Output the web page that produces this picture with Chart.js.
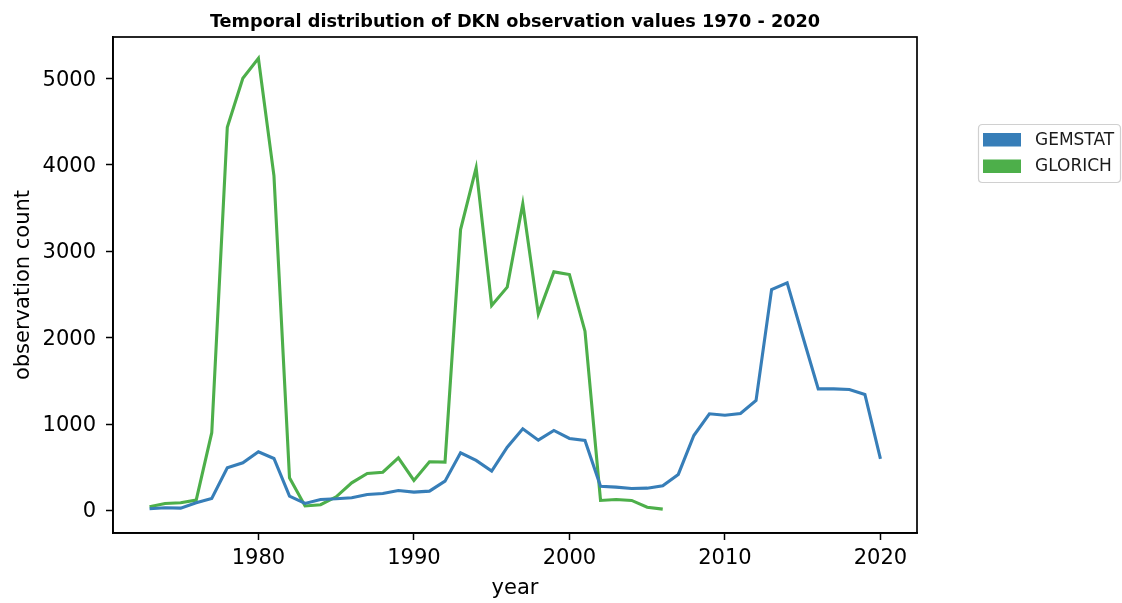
<!DOCTYPE html>
<html>
<head>
<meta charset="utf-8">
<script src="https://cdn.jsdelivr.net/npm/chart.js@4"></script>
<style>
  html, body { margin: 0; padding: 0; background: #ffffff; }
  #wrap { width: 1122px; height: 603px; }
</style>
</head>
<body>
<div id="wrap"><canvas id="c" width="1122" height="603"></canvas></div>
<script>
const chartTitle = 'Temporal distribution of DKN observation values 1970 - 2020';
const xLabel = 'year';
const yLabel = 'observation count';
const xTicks = [1980, 1990, 2000, 2010, 2020];
const yTicks = [0, 1000, 2000, 3000, 4000, 5000];

const gemstatYears = [1973,1974,1975,1976,1977,1978,1979,1980,1981,1982,1983,1984,1985,1986,1987,1988,1989,1990,1991,1992,1993,1994,1995,1996,1997,1998,1999,2000,2001,2002,2003,2004,2005,2006,2007,2008,2009,2010,2011,2012,2013,2014,2015,2016,2017,2018,2019,2020];
const gemstatValues = [20,31,27,89,139,494,552,680,602,165,81,127,135,147,185,197,231,212,224,339,667,579,455,733,946,814,926,833,810,281,270,255,258,286,417,868,1119,1103,1123,1273,2558,2635,2017,1408,1408,1400,1343,598];

const glorichYears = [1973,1974,1975,1976,1977,1978,1979,1980,1981,1982,1983,1984,1985,1986,1987,1988,1989,1990,1991,1992,1993,1994,1995,1996,1997,1998,1999,2000,2001,2002,2003,2004,2005,2006];
const glorichValues = [43,81,89,120,900,4436,5004,5235,3874,378,52,66,158,320,428,443,610,347,563,559,3252,3966,2373,2585,3550,2276,2762,2731,2075,116,127,116,38,15];

const seriesNames = ['GEMSTAT', 'GLORICH'];
const seriesColors = ['#377eb8', '#4daf4a'];

const toPoints = (xs, ys) => xs.map((x, i) => ({ x: x, y: ys[i] }));

const FONT = 'DejaVu Sans';

const framePlugin = {
  id: 'frameTitleLegend',
  afterDraw(chart) {
    const ctx = chart.ctx;
    const a = chart.chartArea;
    ctx.save();
    // frame
    ctx.strokeStyle = '#000';
    ctx.lineWidth = 1.7;
    ctx.strokeRect(a.left, a.top, a.right - a.left, a.bottom - a.top);
    // title
    ctx.fillStyle = '#000';
    ctx.font = 'bold 17.7px "' + FONT + '"';
    ctx.textAlign = 'center';
    ctx.textBaseline = 'alphabetic';
    ctx.fillText(chartTitle, (a.left + a.right) / 2, 26.5);
    // legend
    const bx = 978.5, by = 124.5, bw = 142, bh = 58, r = 4;
    ctx.beginPath();
    ctx.moveTo(bx + r, by);
    ctx.lineTo(bx + bw - r, by);
    ctx.quadraticCurveTo(bx + bw, by, bx + bw, by + r);
    ctx.lineTo(bx + bw, by + bh - r);
    ctx.quadraticCurveTo(bx + bw, by + bh, bx + bw - r, by + bh);
    ctx.lineTo(bx + r, by + bh);
    ctx.quadraticCurveTo(bx, by + bh, bx, by + bh - r);
    ctx.lineTo(bx, by + r);
    ctx.quadraticCurveTo(bx, by, bx + r, by);
    ctx.closePath();
    ctx.fillStyle = 'rgba(255,255,255,0.8)';
    ctx.fill();
    ctx.strokeStyle = '#d0d0d0';
    ctx.lineWidth = 1.2;
    ctx.stroke();
    ctx.font = '17px "' + FONT + '"';
    ctx.textAlign = 'left';
    ctx.textBaseline = 'middle';
    chart.data.datasets.forEach((ds, i) => {
      const cy = 139.5 + i * 26.5;
      ctx.fillStyle = ds.borderColor;
      ctx.fillRect(983, cy - 6.5, 38, 13.5);
      ctx.fillStyle = '#1a1a1a';
      ctx.fillText(ds.label, 1035, cy + 1);
    });
    ctx.restore();
  }
};

new Chart(document.getElementById('c'), {
  type: 'line',
  data: {
    datasets: [
      { label: seriesNames[0], data: toPoints(gemstatYears, gemstatValues), borderColor: seriesColors[0], backgroundColor: seriesColors[0], borderWidth: 3.1, pointRadius: 0, tension: 0, fill: false },
      { label: seriesNames[1], data: toPoints(glorichYears, glorichValues), borderColor: seriesColors[1], backgroundColor: seriesColors[1], borderWidth: 3.1, pointRadius: 0, tension: 0, fill: false }
    ]
  },
  options: {
    responsive: false,
    animation: false,
    devicePixelRatio: 1,
    layout: { padding: { top: 37, right: 205, left: 0, bottom: 0 } },
    plugins: {
      legend: { display: false },
      title: { display: false },
      tooltip: { enabled: false }
    },
    scales: {
      x: {
        type: 'linear',
        min: 1970.65,
        max: 2022.35,
        afterBuildTicks: s => { s.ticks = xTicks.map(v => ({ value: v })); },
        afterFit: s => { s.height = 70; },
        ticks: { color: '#000', font: { family: FONT, size: 21 }, padding: 6, maxRotation: 0, autoSkip: false, callback: v => String(v) },
        grid: { display: true, drawOnChartArea: false, drawTicks: true, tickLength: 7, tickColor: '#000', tickWidth: 1.5 },
        border: { display: true, color: '#000', width: 1.7 },
        title: { display: true, text: xLabel, color: '#000', font: { family: FONT, size: 21 }, padding: { top: 0, bottom: 2 } }
      },
      y: {
        type: 'linear',
        min: -261,
        max: 5481,
        afterBuildTicks: s => { s.ticks = yTicks.map(v => ({ value: v })); },
        afterFit: s => { s.width = 113; },
        ticks: { color: '#000', font: { family: FONT, size: 21 }, padding: 10, labelOffset: 1.5, autoSkip: false, callback: v => String(v) },
        grid: { display: true, drawOnChartArea: false, drawTicks: true, tickLength: 7, tickColor: '#000', tickWidth: 1.5 },
        border: { display: true, color: '#000', width: 1.7 },
        title: { display: true, text: yLabel, color: '#000', font: { family: FONT, size: 21 }, padding: { top: 11, bottom: 0 } }
      }
    }
  },
  plugins: [framePlugin]
});
</script>
</body>
</html>
